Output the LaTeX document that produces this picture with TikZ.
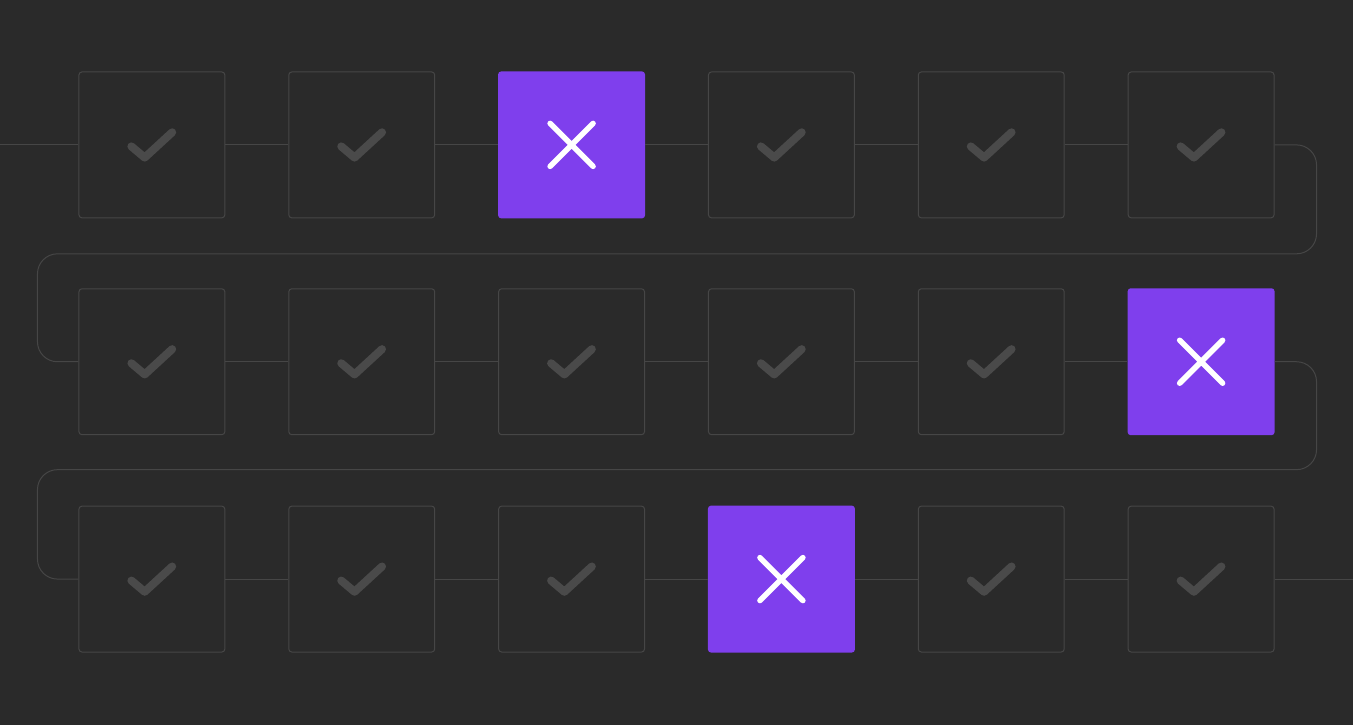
\documentclass[tikz,border=0pt]{standalone}

\definecolor{bg}{HTML}{2A2A2A}
\definecolor{edge}{HTML}{464646}
\definecolor{tickgray}{HTML}{4A4A4A}
\definecolor{failpurple}{HTML}{7F3FED}

\def\chk #1 {\draw[okmark] (#1) ++(-20.5,1.5) -- ++(13.3,11.2) -- ++(27.5,-25.3);}
\def\crs #1 {\draw[failmark] (#1) ++(-21.5,-21.5) -- ++(43,43) (#1) ++(21.5,-21.5) -- ++(-43,43);}

\begin{document}
\begin{tikzpicture}[
x=1pt, y=-1pt,
pass/.style={draw=edge, line width=1pt, rounded corners=3pt, minimum size=146pt, inner sep=0pt},
fail/.style={fill=failpurple, rounded corners=3pt, minimum size=147pt, inner sep=0pt},
okmark/.style={draw=tickgray, line width=8pt, line cap=round, line join=round},
failmark/.style={draw=white, line width=5.5pt, line cap=round},
link/.style={draw=edge, line width=1pt},
]

% Background:
\fill[bg] (0,0) rectangle (1353,726);

\node[pass] at (151.5,145) (b11) {};
\node[pass] at (361.5,145) (b12) {};
\node[fail] at (571.5,145) (b13) {};
\node[pass] at (781.5,145) (b14) {};
\node[pass] at (991.5,145) (b15) {};
\node[pass] at (1201.5,145) (b16) {};

\node[pass] at (151.5,362) (b21) {};
\node[pass] at (361.5,362) (b22) {};
\node[pass] at (571.5,362) (b23) {};
\node[pass] at (781.5,362) (b24) {};
\node[pass] at (991.5,362) (b25) {};
\node[fail] at (1201.5,362) (b26) {};

\node[pass] at (151.5,579.5) (b31) {};
\node[pass] at (361.5,579.5) (b32) {};
\node[pass] at (571.5,579.5) (b33) {};
\node[fail] at (781.5,579.5) (b34) {};
\node[pass] at (991.5,579.5) (b35) {};
\node[pass] at (1201.5,579.5) (b36) {};

\coordinate (start) at (0,145);
\coordinate (finish) at (1353,579.5);
\coordinate (r1) at (1317,254);
\coordinate (l1) at (37,254);
\coordinate (r2) at (1317,470);
\coordinate (l2) at (37,470);

% Rows:
\draw[link] (start) -- (b11) -- (b12) -- (b13) -- (b14) -- (b15) -- (b16);
\draw[link] (b21) -- (b22) -- (b23) -- (b24) -- (b25) -- (b26);
\draw[link] (b31) -- (b32) -- (b33) -- (b34) -- (b35) -- (b36) -- (finish);

% Turns:
\draw[link, rounded corners=20pt] (b16) -| (r1) -- (l1) |- (b21);
\draw[link, rounded corners=20pt] (b26) -| (r2) -- (l2) |- (b31);

\chk{b11}
\chk{b12}
\crs{b13}
\chk{b14}
\chk{b15}
\chk{b16}
\chk{b21}
\chk{b22}
\chk{b23}
\chk{b24}
\chk{b25}
\crs{b26}
\chk{b31}
\chk{b32}
\chk{b33}
\crs{b34}
\chk{b35}
\chk{b36}
\end{tikzpicture}
\end{document}
